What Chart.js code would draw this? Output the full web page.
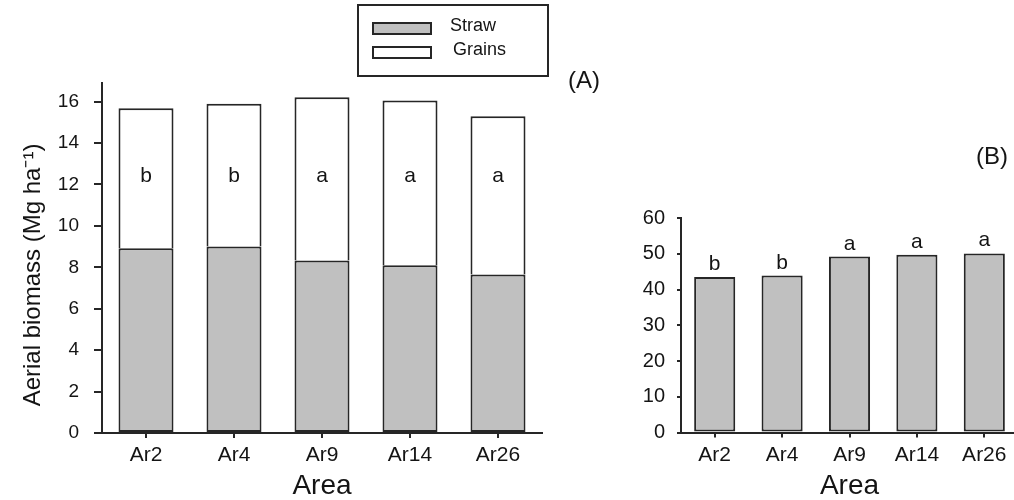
<!DOCTYPE html>
<html><head><meta charset="utf-8">
<script src="https://cdn.jsdelivr.net/npm/chart.js@4/dist/chart.umd.min.js"></script>
<style>
html,body{margin:0;padding:0;background:#fff;width:1014px;height:500px;overflow:hidden;position:relative}
#a{position:absolute;left:0;top:0;width:620px;height:500px}
#b{position:absolute;left:600px;top:0;width:420px;height:500px}
</style></head><body>
<div id="a"><canvas id="ca"></canvas></div>
<div id="b"><canvas id="cb"></canvas></div>
<script>
// ---- data ----
const areas = ['Ar2', 'Ar4', 'Ar9', 'Ar14', 'Ar26'];
const straw = [8.92, 9.00, 8.33, 8.10, 7.65];
const grains = [6.76, 6.90, 7.88, 7.96, 7.64];
const harvestIndex = [43.5, 43.9, 49.2, 49.7, 50.1];
const lettersA = ['b', 'b', 'a', 'a', 'a'];
const lettersB = ['b', 'b', 'a', 'a', 'a'];
const biomassTicks = [0, 2, 4, 6, 8, 10, 12, 14, 16];
const hiTicks = [0, 10, 20, 30, 40, 50, 60];

// ---- styles ----
const FONT = '"Liberation Sans", Arial, Helvetica, sans-serif';
const INK = '#262626';
const TXT = '#141414';
const GRAY = '#c0c0c0';

Chart.defaults.font.family = FONT;
Chart.defaults.color = TXT;

function baseScales(opts) {
  return {
    x: {
      type: 'category',
      stacked: opts.stacked,
      offset: true,
      grid: { display: true, drawOnChartArea: false, drawTicks: true, tickLength: 5, color: INK, lineWidth: 2, offset: false },
      border: { display: true, color: INK, width: 2 },
      ticks: { font: { size: 21 }, color: TXT, padding: 5, maxRotation: 0, autoSkip: false },
      title: { display: true, text: 'Area', font: { size: 28, lineHeight: 1 }, color: TXT, padding: { top: 0, bottom: 0 } },
      afterFit: s => { s.height = opts.xh; }
    },
    y: {
      type: 'linear',
      stacked: opts.stacked,
      min: 0, max: opts.max,
      grid: { display: true, drawOnChartArea: false, drawTicks: true, tickLength: opts.tl, color: INK, lineWidth: 2 },
      border: { display: true, color: INK, width: 2 },
      ticks: { font: { size: opts.tf }, color: TXT, padding: opts.tp, includeBounds: false },
      afterBuildTicks: s => { s.ticks = opts.ticks.map(v => ({ value: v })); },
      afterFit: s => { s.width = opts.yw; }
    }
  };
}

const panelA = {
  id: 'panelA',
  afterDraw(chart) {
    const ctx = chart.ctx, x = chart.scales.x, y = chart.scales.y;
    ctx.save();
    // significance letters
    ctx.fillStyle = TXT;
    ctx.font = '21px ' + FONT;
    ctx.textAlign = 'center';
    ctx.textBaseline = 'middle';
    lettersA.forEach((t, i) => ctx.fillText(t, x.getPixelForValue(i), y.getPixelForValue(12.4)));
    // y title
    ctx.save();
    ctx.translate(33, 275);
    ctx.rotate(-Math.PI / 2);
    ctx.font = '24px ' + FONT;
    ctx.fillText('Aerial biomass (Mg ha\u207B\u00B9)', 0, 0);
    ctx.restore();
    // panel tag
    ctx.font = '24px ' + FONT;
    ctx.fillText('(A)', 584, 81);
    // legend box
    ctx.strokeStyle = INK;
    ctx.lineWidth = 2;
    ctx.strokeRect(358, 5, 190, 71);
    const ds = chart.data.datasets;
    const rows = [28.5, 52.5];
    ds.forEach((d, i) => {
      ctx.fillStyle = d.backgroundColor;
      ctx.fillRect(373, rows[i] - 5.5, 58, 11);
      ctx.strokeStyle = INK;
      ctx.lineWidth = 2;
      ctx.strokeRect(373, rows[i] - 5.5, 58, 11);
      ctx.fillStyle = TXT;
      ctx.font = '18px ' + FONT;
      ctx.textAlign = 'left';
      ctx.fillText(d.label, i === 0 ? 450 : 453, rows[i] - 2);
    });
    ctx.restore();
  }
};

const panelB = {
  id: 'panelB',
  afterDraw(chart) {
    const ctx = chart.ctx, x = chart.scales.x, y = chart.scales.y;
    ctx.save();
    ctx.fillStyle = TXT;
    ctx.font = '21px ' + FONT;
    ctx.textAlign = 'center';
    ctx.textBaseline = 'alphabetic';
    lettersB.forEach((t, i) => ctx.fillText(t, x.getPixelForValue(i), y.getPixelForValue(harvestIndex[i]) - 7));
    ctx.textBaseline = 'middle';
    ctx.save();
    ctx.translate(614, 345);
    ctx.rotate(-Math.PI / 2);
    ctx.font = '18px ' + FONT;
    ctx.fillText('Harvest index (%)', 0, 0);
    ctx.restore();
    ctx.font = '24px ' + FONT;
    ctx.fillText('(B)', 392, 157);
    ctx.restore();
  }
};

new Chart(document.getElementById('ca'), {
  type: 'bar',
  data: {
    labels: areas,
    datasets: [
      { label: 'Straw', data: straw, backgroundColor: GRAY, borderColor: INK, borderWidth: 2, borderSkipped: false, barPercentage: 0.625, categoryPercentage: 1 },
      { label: 'Grains', data: grains, backgroundColor: '#ffffff', borderColor: INK, borderWidth: 2, borderSkipped: 'start', barPercentage: 0.625, categoryPercentage: 1 }
    ]
  },
  options: {
    responsive: true, maintainAspectRatio: false, animation: false, devicePixelRatio: 1,
    layout: { padding: { left: 0, right: 78, top: 83, bottom: 0 } },
    plugins: { legend: { display: false }, tooltip: { enabled: false } },
    scales: baseScales({ stacked: true, max: 16.9, ticks: biomassTicks, tl: 8, tf: 19, tp: 15, yw: 102, xh: 67 })
  },
  plugins: [panelA]
});

new Chart(document.getElementById('cb'), {
  type: 'bar',
  data: {
    labels: areas,
    datasets: [
      { label: 'Harvest index', data: harvestIndex, backgroundColor: GRAY, borderColor: INK, borderWidth: 2, borderSkipped: false, barPercentage: 0.61, categoryPercentage: 1 }
    ]
  },
  options: {
    responsive: true, maintainAspectRatio: false, animation: false, devicePixelRatio: 1,
    layout: { padding: { left: 0, right: 2, top: 218, bottom: 0 } },
    plugins: { legend: { display: false }, tooltip: { enabled: false } },
    scales: baseScales({ stacked: false, max: 60, ticks: hiTicks, tl: 4, tf: 20, tp: 12, yw: 81, xh: 67.5 })
  },
  plugins: [panelB]
});
</script>
</body></html>
